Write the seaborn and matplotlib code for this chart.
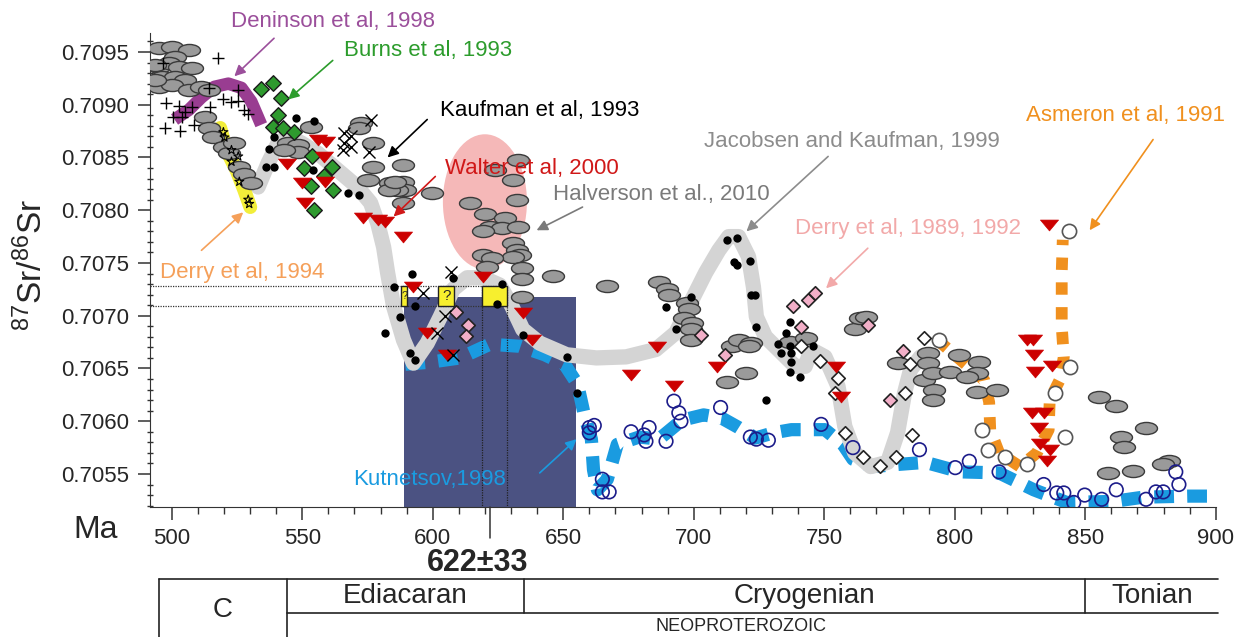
import numpy as np
import matplotlib
matplotlib.use("Agg")
import matplotlib.pyplot as plt
import matplotlib.transforms as mtransforms
from matplotlib.path import Path
from matplotlib.patches import Ellipse, Rectangle
from matplotlib.lines import Line2D
from matplotlib.ticker import MultipleLocator, FormatStrFormatter
import seaborn as sns

# ---------------- data (age in Ma, 87Sr/86Sr) ----------------
# Halverson et al., 2010 (grey ellipses)
halverson_age = [495.0, 500.0, 506.5, 501.1, 495.0, 498.9, 502.7, 507.6, 496.2, 501.1, 505.0, 495.0,
                 500.0, 506.5, 511.4, 514.1, 493.5, 493.5, 512.6, 514.1, 516.0, 520.2, 522.1, 524.0,
                 525.9, 527.8, 530.5, 544.6, 548.4, 548.4, 543.0, 553.3, 572.4, 571.6, 577.0, 577.3,
                 575.1, 583.8, 588.8, 589.5, 586.5, 583.1, 588.8, 599.8, 588.8, 585.7, 614.3, 632.6,
                 623.8, 630.7, 632.2, 620.0, 627.6, 621.9, 626.5, 632.6, 619.3, 630.7, 632.2, 633.4,
                 630.7, 619.3, 622.7, 620.8, 634.1, 634.1, 645.9, 666.9, 634.1, 686.7, 689.7, 690.5,
                 697.4, 698.1, 696.2, 699.3, 698.9, 698.9, 714.5, 717.2, 722.1, 721.0, 712.6, 720.2,
                 737.0, 743.1, 761.7, 763.7, 765.9, 778.1, 789.6, 789.6, 788.4, 791.5, 792.2, 791.5,
                 801.8, 809.4, 808.6, 798.3, 804.8, 808.6, 816.2, 855.1, 861.9, 873.3, 863.8, 865.0,
                 858.9, 868.4, 882.1, 879.9]
halverson_sr = [0.70954, 0.70955, 0.70952, 0.70945, 0.70936, 0.70940, 0.70936, 0.70935, 0.70926, 0.70926,
                0.70923, 0.70917, 0.70919, 0.70914, 0.70917, 0.70914, 0.70923, 0.70938, 0.70888, 0.70878,
                0.70869, 0.70860, 0.70854, 0.70864, 0.70841, 0.70834, 0.70826, 0.70864, 0.70862, 0.70855,
                0.70857, 0.70879, 0.70883, 0.70878, 0.70864, 0.70841, 0.70829, 0.70826, 0.70827, 0.70819,
                0.70819, 0.70819, 0.70843, 0.70816, 0.70807, 0.70827, 0.70807, 0.70848, 0.70838, 0.70829,
                0.70810, 0.70796, 0.70793, 0.70784, 0.70783, 0.70784, 0.70780, 0.70769, 0.70762, 0.70758,
                0.70756, 0.70758, 0.70755, 0.70746, 0.70745, 0.70735, 0.70738, 0.70728, 0.70718, 0.70732,
                0.70725, 0.70720, 0.70712, 0.70706, 0.70698, 0.70693, 0.70687, 0.70677, 0.70671, 0.70677,
                0.70674, 0.70671, 0.70637, 0.70646, 0.70675, 0.70679, 0.70687, 0.70698, 0.70699, 0.70655,
                0.70665, 0.70655, 0.70639, 0.70646, 0.70630, 0.70620, 0.70663, 0.70656, 0.70646, 0.70647,
                0.70642, 0.70628, 0.70630, 0.70623, 0.70614, 0.70594, 0.70585, 0.70576, 0.70551, 0.70553,
                0.70562, 0.70559]

# Jacobsen and Kaufman, 1999 (black dots)
jk_age = [547.6, 554.5, 539.2, 537.3, 536.2, 539.2, 554.1, 567.4, 571.6, 592.2, 585.0, 607.8, 626.5,
          593.3, 624.6, 587.6, 581.9, 591.4, 593.3, 634.5, 651.3, 655.1, 689.4, 693.2, 698.9, 712.6,
          716.4, 715.3, 716.4, 721.7, 722.1, 723.6, 724.0, 737.0, 735.5, 732.4, 733.6, 737.0, 737.4,
          737.4, 737.0, 740.8, 745.7, 727.8]
jk_sr = [0.70887, 0.70885, 0.70869, 0.70858, 0.70841, 0.70841, 0.70838, 0.70816, 0.70814, 0.70740,
         0.70727, 0.70736, 0.70730, 0.70709, 0.70711, 0.70699, 0.70684, 0.70665, 0.70658, 0.70682,
         0.70661, 0.70627, 0.70708, 0.70687, 0.70718, 0.70772, 0.70774, 0.70751, 0.70748, 0.70752,
         0.70720, 0.70720, 0.70689, 0.70694, 0.70684, 0.70673, 0.70665, 0.70671, 0.70665, 0.70656,
         0.70647, 0.70642, 0.70671, 0.70620]

# Jacobsen and Kaufman, 1999 trend
trend_age = [533.1, 537.0, 540.8, 544.6, 549.5, 556.0, 563.6, 571.2, 576.2, 578.9, 581.2, 582.7, 585.0,
             588.8, 592.6, 597.9, 602.9, 607.8, 613.2, 619.3, 625.7, 630.3, 634.5, 641.0, 651.3, 662.7,
             674.1, 685.5, 693.2, 698.1, 704.6, 709.6, 713.4, 717.2, 721.0, 722.9, 724.0, 727.5, 732.4,
             738.9, 742.7, 745.0, 750.3, 755.3, 757.9, 761.7, 767.8, 774.3, 778.1, 780.8, 783.1, 786.9]
trend_sr = [0.70822, 0.70845, 0.70864, 0.70870, 0.70864, 0.70854, 0.70838, 0.70822, 0.70807, 0.70788,
            0.70765, 0.70741, 0.70709, 0.70677, 0.70655, 0.70674, 0.70699, 0.70725, 0.70736, 0.70736,
            0.70729, 0.70709, 0.70687, 0.70674, 0.70663, 0.70660, 0.70661, 0.70668, 0.70684, 0.70709,
            0.70741, 0.70762, 0.70775, 0.70775, 0.70756, 0.70727, 0.70699, 0.70680, 0.70668, 0.70652,
            0.70652, 0.70668, 0.70661, 0.70633, 0.70595, 0.70570, 0.70557, 0.70561, 0.70589, 0.70627,
            0.70649, 0.70661]

# plus signs (Cambrian data)
plus_age = [517.9, 496.6, 514.1, 525.5, 519.8, 522.9, 525.5, 527.8, 529.3, 497.7, 502.7, 507.6, 500.4,
            503.8, 497.3, 503.0, 508.4, 514.5, 505.0]
plus_sr = [0.70944, 0.70940, 0.70916, 0.70914, 0.70905, 0.70903, 0.70904, 0.70895, 0.70891, 0.70902,
           0.70899, 0.70898, 0.70888, 0.70888, 0.70878, 0.70875, 0.70881, 0.70898, 0.70893]

# Kaufman et al, 1993 (crosses)
kaufman_age = [565.9, 568.6, 565.9, 568.6, 565.5, 576.2, 575.4, 607.1, 596.4, 604.8, 601.7, 607.8]
kaufman_sr = [0.70873, 0.70870, 0.70864, 0.70860, 0.70857, 0.70886, 0.70855, 0.70741, 0.70722, 0.70700,
              0.70684, 0.70663]

# Burns et al, 1993 (green diamonds)
burns_age = [534.3, 538.9, 541.9, 540.8, 538.9, 542.7, 546.9, 553.7, 550.7, 561.3, 558.3, 553.3, 561.7, 554.5]
burns_sr = [0.70915, 0.70921, 0.70906, 0.70890, 0.70879, 0.70878, 0.70874, 0.70851, 0.70840, 0.70841,
            0.70832, 0.70823, 0.70819, 0.70800]

# Walter et al, 2000 (red triangles)
walter_age = [556.0, 559.1, 558.3, 544.2, 549.9, 558.7, 551.1, 573.2, 578.9, 581.9, 588.8, 592.6, 619.3,
              634.5, 597.9, 605.5, 637.9, 685.9, 676.0, 708.8, 692.4, 754.5, 756.4, 836.0, 827.7, 829.9,
              830.3, 830.7, 837.2, 829.6, 834.1, 832.2, 832.6, 836.4, 835.3]
walter_sr = [0.70867, 0.70865, 0.70850, 0.70844, 0.70826, 0.70827, 0.70807, 0.70793, 0.70791, 0.70789,
             0.70775, 0.70727, 0.70737, 0.70703, 0.70684, 0.70663, 0.70677, 0.70670, 0.70644, 0.70651,
             0.70633, 0.70651, 0.70623, 0.70786, 0.70677, 0.70677, 0.70663, 0.70647, 0.70652, 0.70608,
             0.70608, 0.70594, 0.70578, 0.70573, 0.70562]

# Derry et al, 1989, 1992 (pink diamonds)
derry_age = [609.0, 613.5, 612.8, 702.7, 711.8, 738.1, 743.8, 746.5, 741.2, 766.7, 780.0, 775.1]
derry_sr = [0.70704, 0.70691, 0.70681, 0.70682, 0.70663, 0.70709, 0.70715, 0.70722, 0.70689, 0.70691,
            0.70667, 0.70620]

# open diamonds
open_dia_age = [741.2, 748.4, 755.3, 754.1, 758.0, 764.8, 771.3, 777.4, 783.8, 780.8, 782.7, 788.4]
open_dia_sr = [0.70671, 0.70657, 0.70641, 0.70627, 0.70589, 0.70566, 0.70558, 0.70566, 0.70587, 0.70627,
               0.70654, 0.70679]

# Kuznetsov, 1998 (open navy circles)
kuz_age = [660.0, 661.9, 660.0, 665.0, 665.0, 667.6, 676.0, 682.9, 681.0, 681.7, 689.4, 692.4, 694.3,
           695.1, 710.3, 721.7, 724.0, 728.6, 748.8, 761.0, 786.5, 800.2, 805.6, 817.0, 834.1, 839.1,
           841.8, 845.6, 849.8, 856.3, 861.9, 873.3, 877.1, 879.9, 884.7, 885.9]
kuz_sr = [0.70594, 0.70596, 0.70589, 0.70545, 0.70533, 0.70533, 0.70590, 0.70594, 0.70587, 0.70581,
          0.70581, 0.70619, 0.70608, 0.70600, 0.70613, 0.70585, 0.70583, 0.70582, 0.70597, 0.70575,
          0.70573, 0.70556, 0.70562, 0.70552, 0.70540, 0.70532, 0.70532, 0.70523, 0.70530, 0.70526,
          0.70535, 0.70526, 0.70533, 0.70533, 0.70552, 0.70540]
kuz_curve_age = [589.5, 599.1, 610.5, 621.9, 633.4, 642.9, 650.5, 655.5, 658.1, 660.8, 661.6, 663.1, 666.9,
                 670.7, 679.1, 686.7, 695.5, 703.8, 710.7, 717.2, 723.6, 730.5, 737.4, 750.3, 757.2,
                 761.0, 768.6, 778.1, 788.8, 802.1, 817.0, 830.3, 842.9, 860.8, 872.2, 889.7, 898.1]
kuz_curve_sr = [0.70654, 0.70656, 0.70660, 0.70673, 0.70671, 0.70663, 0.70654, 0.70635, 0.70606, 0.70583,
                0.70554, 0.70535, 0.70545, 0.70578, 0.70585, 0.70583, 0.70601, 0.70606, 0.70603, 0.70594,
                0.70584, 0.70589, 0.70592, 0.70592, 0.70578, 0.70564, 0.70557, 0.70559, 0.70561, 0.70552,
                0.70551, 0.70535, 0.70523, 0.70524, 0.70528, 0.70529, 0.70529]

# Asmeron et al, 1991 (open grey circles + trend)
asm_age = [843.7, 794.1, 844.1, 838.4, 810.5, 812.8, 819.3, 827.7, 842.1]
asm_sr = [0.70780, 0.70677, 0.70651, 0.70627, 0.70592, 0.70573, 0.70566, 0.70559, 0.70585]
asm_curve_age = [793.4, 803.7, 811.3, 813.2, 813.6, 817.0, 825.0, 831.5, 836.0, 836.4, 840.2, 841.8,
                 841.0, 841.0, 841.0, 841.4]
asm_curve_sr = [0.70677, 0.70655, 0.70639, 0.70618, 0.70592, 0.70570, 0.70557, 0.70570, 0.70592, 0.70620,
                0.70639, 0.70661, 0.70690, 0.70715, 0.70741, 0.70772]

# Derry et al, 1994 (stars + band)
derry94_age = [519.8, 520.2, 522.9, 525.5, 522.9, 525.9, 529.3, 529.7]
derry94_sr = [0.70874, 0.70869, 0.70857, 0.70851, 0.70846, 0.70827, 0.70810, 0.70806]
derry94_band_age = [518.6, 521.0, 524.8, 527.8, 530.1]
derry94_band_sr = [0.70878, 0.70857, 0.70838, 0.70819, 0.70803]

# Denison et al, 1998 trend
denison_age = [501.1, 506.5, 511.4, 516.4, 521.7, 526.7, 530.5, 533.1, 534.3]
denison_sr = [0.70886, 0.70895, 0.70907, 0.70917, 0.70920, 0.70916, 0.70903, 0.70888, 0.70881]

# age estimate 622 +- 33 Ma and reference boxes
age_mid, age_err, box_top = 622, 33, 0.70718
ref_ages = [619.0, 628.4]
ref_sr = [0.70728, 0.70709]
qbox_left = [588.0, 602.1, 618.9]
qbox_right = [590.3, 608.2, 628.4]
qbox_text = ["?", "?", ""]

# stratigraphy
strat_bounds = [495, 544, 635, 850, 901]
period_names = ["Ediacaran", "Cryogenian", "Tonian"]

# ---------------- plotting ----------------
sns.set_style("ticks")
plt.rcParams["font.family"] = ["Liberation Sans", "DejaVu Sans"]
plt.rcParams["mathtext.fontset"] = "custom"
plt.rcParams["mathtext.rm"] = "Liberation Sans"
plt.rcParams["mathtext.it"] = "Liberation Sans:italic"

fig = plt.figure(figsize=(12.38, 6.37), dpi=100)
ax = fig.add_axes([0.1212, 0.2041, 0.8608, 0.7441])
ax.set_xlim(491.7, 900)
ax.set_ylim(0.705187, 0.70968)

circ = Path.unit_circle()
ellipse_mk = Path(circ.vertices * np.array([1.0, 0.55]), circ.codes)
tri_mk = Path([(-1, 0.6), (1, 0.6), (0, -0.6), (-1, 0.6)], [1, 2, 2, 79])
dia_mk = Path([(0, 1), (1, 0), (0, -1), (-1, 0), (0, 1)], [1, 2, 2, 2, 79])

# background shading
ax.add_patch(Rectangle((age_mid - age_err, 0.70), 2 * age_err, box_top - 0.70,
                       facecolor="#4b5282", edgecolor="none", zorder=1))
ax.add_patch(Ellipse((620.0, 0.70808), 32.2, 0.00128, facecolor="#f5b8b8",
                     edgecolor="none", zorder=1))

# trend curves
sns.lineplot(x=kuz_curve_age, y=kuz_curve_sr, sort=False, estimator=None, ax=ax, color="#1a9be0",
             linewidth=9.5, linestyle=(0, (1.5, 1.0)), dash_capstyle="butt", zorder=2)
sns.lineplot(x=trend_age, y=trend_sr, sort=False, estimator=None, ax=ax, color="#d4d4d4",
             linewidth=11, solid_capstyle="round", zorder=3)
sns.lineplot(x=asm_curve_age, y=asm_curve_sr, sort=False, estimator=None, ax=ax, color="#f0901e",
             linewidth=8.5, linestyle=(0, (1.05, 1.05)), dash_capstyle="butt", zorder=3)
sns.lineplot(x=derry94_band_age, y=derry94_band_sr, sort=False, estimator=None, ax=ax, color="#f2ee3a",
             linewidth=10, solid_capstyle="round", zorder=3)
sns.lineplot(x=denison_age, y=denison_sr, sort=False, estimator=None, ax=ax, color="#993d91",
             linewidth=9, solid_capstyle="butt", zorder=3)

# dotted reference lines
for r in ref_sr:
    ax.plot([491.7, ref_ages[1]], [r, r], color="#333333", lw=0.9, ls=(0, (1, 1)), zorder=4)
for a in ref_ages:
    ax.plot([a, a], [0.70, ref_sr[0]], color="#222222", lw=0.9, ls=(0, (1, 1)), zorder=4)

# yellow boxes
for l, rgt, t in zip(qbox_left, qbox_right, qbox_text):
    ax.add_patch(Rectangle((l, ref_sr[1]), rgt - l, ref_sr[0] - ref_sr[1], facecolor="#f7ef2e",
                           edgecolor="#222222", lw=1, zorder=6))
    if t:
        ax.text((l + rgt) / 2, (ref_sr[0] + ref_sr[1]) / 2, t, ha="center", va="center",
                fontsize=11 if rgt - l > 4 else 8, zorder=7)

# data points
sns.scatterplot(x=halverson_age, y=halverson_sr, marker=ellipse_mk, s=250, color="#9a9a9a",
                edgecolor="#3a3a3a", linewidth=1, ax=ax, zorder=5, legend=False)
sns.scatterplot(x=kuz_age, y=kuz_sr, marker="o", s=95, facecolor="none", edgecolor="#1c1c8a",
                linewidth=1.2, ax=ax, zorder=5, legend=False)
sns.scatterplot(x=asm_age, y=asm_sr, marker="o", s=105, facecolor="white", edgecolor="#555555",
                linewidth=1.2, ax=ax, zorder=5, legend=False)
sns.scatterplot(x=open_dia_age, y=open_dia_sr, marker=dia_mk, s=95, facecolor="white", edgecolor="#222222",
                linewidth=1.2, ax=ax, zorder=5, legend=False)
sns.scatterplot(x=derry_age, y=derry_sr, marker=dia_mk, s=95, color="#f2afc8", edgecolor="#222222",
                linewidth=1.2, ax=ax, zorder=6, legend=False)
sns.scatterplot(x=burns_age, y=burns_sr, marker=dia_mk, s=125, color="#2e9a2e", edgecolor="#1a1a1a",
                linewidth=1, ax=ax, zorder=6, legend=False)
sns.scatterplot(x=walter_age, y=walter_sr, marker=tri_mk, s=170, color="#cc0000", edgecolor="#cc0000",
                linewidth=0.5, ax=ax, zorder=6, legend=False)
sns.scatterplot(x=plus_age, y=plus_sr, marker="+", s=80, color="black", linewidth=1, ax=ax, zorder=6,
                legend=False)
sns.scatterplot(x=kaufman_age, y=kaufman_sr, marker="x", s=75, color="black", linewidth=1, ax=ax,
                zorder=6, legend=False)
sns.scatterplot(x=jk_age, y=jk_sr, marker="o", s=36, color="black", edgecolor="black", linewidth=0,
                ax=ax, zorder=7, legend=False)
sns.scatterplot(x=derry94_age, y=derry94_sr, marker="*", s=45, facecolor="none", edgecolor="black",
                linewidth=0.8, ax=ax, zorder=7, legend=False)

# labels with arrows
labels = [
    ("Deninson et al, 1998", "#9b4f9b", (522.9, 0.70979), (539.2, 0.70963), (524.0, 0.70927)),
    ("Burns et al, 1993", "#2c9c2c", (565.9, 0.70951), (561.7, 0.70942), (544.6, 0.70905)),
    ("Kaufman et al, 1993", "black", (602.9, 0.70895), (597.9, 0.70886), (582.7, 0.70850)),
    ("Walter et al, 2000", "#d01818", (604.8, 0.70840), (601.0, 0.70832), (585.0, 0.70794)),
    ("Halverson et al., 2010", "#7a7a7a", (645.9, 0.70815), (657.4, 0.70803), (639.8, 0.70781)),
    ("Jacobsen and Kaufman, 1999", "#8c8c8c", (703.8, 0.70865), (751.5, 0.70851), (720.2, 0.70780)),
    ("Derry et al, 1989, 1992", "#f2a9a9", (738.9, 0.70783), (766.7, 0.70764), (750.7, 0.70726)),
    ("Asmeron et al, 1991", "#f0901e", (827.5, 0.70890), (876.0, 0.70867), (851.7, 0.70781)),
    ("Derry et al, 1994", "#f5a05a", (495.4, 0.70741), (511.4, 0.70762), (527.4, 0.70798)),
    ("Kutnetsov,1998", "#1a9be0", (569.5, 0.70545), (641.0, 0.70551), (655.1, 0.70583)),
]
for txt, col, tpos, start, end in labels:
    ax.text(tpos[0], tpos[1], txt, color=col, fontsize=16, ha="left", va="center", zorder=9,
            clip_on=False)
    ax.annotate("", xy=end, xytext=start, zorder=9, annotation_clip=False,
                arrowprops=dict(arrowstyle="-|>", color=col, lw=1.2, mutation_scale=16,
                                shrinkA=0, shrinkB=0))

# axes styling
sns.despine(ax=ax)
ax.spines["left"].set_color("#333333")
ax.spines["bottom"].set_color("#333333")
ax.xaxis.set_major_locator(MultipleLocator(50))
ax.xaxis.set_minor_locator(MultipleLocator(10))
ax.yaxis.set_major_locator(MultipleLocator(0.0005))
ax.yaxis.set_minor_locator(MultipleLocator(0.0001))
ax.yaxis.set_major_formatter(FormatStrFormatter("%.4f"))
ax.tick_params(axis="both", which="major", labelsize=16, length=9, width=1.1, color="#333333")
ax.tick_params(axis="x", which="major", pad=6)
ax.tick_params(axis="y", which="major", pad=6)
ax.tick_params(axis="x", which="minor", length=5, width=1, color="#333333")
ax.tick_params(axis="y", which="minor", length=5, width=1, direction="inout", color="#333333")
ax.set_xlabel("")
ax.set_ylabel("")

fig.text(0.026, 0.584, r"$^{87}$Sr/$^{86}$Sr", rotation=90, fontsize=24, ha="center", va="center")
fig.text(0.0775, 0.168, "Ma", fontsize=23, ha="center", va="center")

# long tick at the age estimate
ax.add_line(Line2D([age_mid, age_mid], [0, -0.066], transform=ax.get_xaxis_transform(),
                   color="#333333", lw=1.1, clip_on=False))
fig.text(0.386, 0.116, f"{age_mid}\u00b1{age_err}", fontsize=22, fontweight="bold",
         ha="center", va="center")

# stratigraphic table (x in Ma, y in figure fraction)
tr = mtransforms.blended_transform_factory(ax.transData, fig.transFigure)
y_top, y_mid, y_bot = 0.0911, 0.0377, 0.0
tl = dict(transform=tr, color="#222222", lw=1.2, clip_on=False)
fig.add_artist(Line2D([strat_bounds[0], strat_bounds[-1]], [y_top, y_top], **tl))
fig.add_artist(Line2D([strat_bounds[1], strat_bounds[-1]], [y_mid, y_mid], **tl))
fig.add_artist(Line2D([strat_bounds[0], strat_bounds[0]], [y_top, y_bot], **tl))
fig.add_artist(Line2D([strat_bounds[1], strat_bounds[1]], [y_top, y_bot], **tl))
for b in strat_bounds[2:4]:
    fig.add_artist(Line2D([b, b], [y_top, y_mid], **tl))
fig.text((strat_bounds[0] + strat_bounds[1]) / 2, 0.042, "C", transform=tr, fontsize=20,
         ha="center", va="center")
for i, name in enumerate(period_names):
    fig.text((strat_bounds[i + 1] + strat_bounds[i + 2]) / 2, 0.0636, name, transform=tr,
             fontsize=20, ha="center", va="center")
fig.text(718, 0.0157, "NEOPROTEROZOIC", transform=tr, fontsize=13, ha="center", va="center")

fig.savefig("out.png", dpi=100)
plt.close(fig)
